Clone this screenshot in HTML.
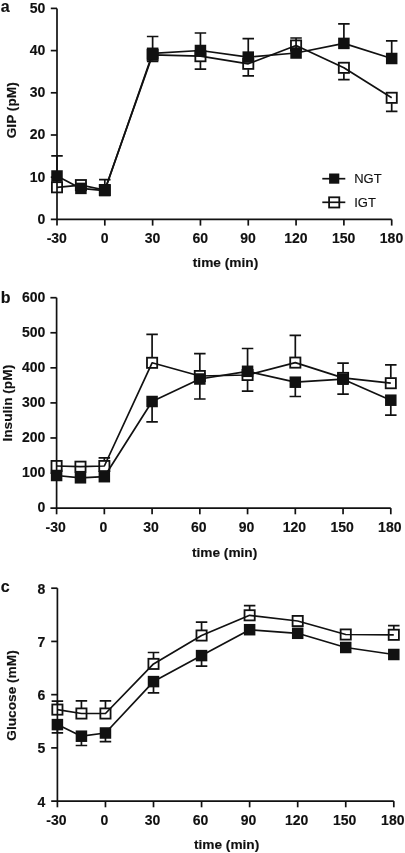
<!DOCTYPE html>
<html><head><meta charset="utf-8"><style>
html,body{margin:0;padding:0;background:#fff;}
body{width:405px;height:853px;overflow:hidden;}
svg{display:block;will-change:transform;}
text{font-family:"Liberation Sans", sans-serif;fill:#111;stroke:#111;stroke-width:0.15px;}
.tl{font-weight:bold;font-size:14px;}
.at{font-weight:bold;font-size:13.7px;}
.pl{font-weight:bold;font-size:16px;}
.lg{font-size:13px;}
.ax{fill:none;stroke:#111;stroke-width:1.7;}
.dl{fill:none;stroke:#111;stroke-width:1.7;stroke-linejoin:round;}
.eb{fill:none;stroke:#111;stroke-width:1.7;}
.om{fill:none;stroke:#111;stroke-width:1.8;}
.fm{fill:#111;stroke:none;}
</style></head><body>
<svg width="405" height="853" viewBox="0 0 405 853">
<path d="M57.00 8.40V225.60" class="ax"/>
<path d="M50.80 219.40H391.70" class="ax"/>
<text x="45.4" y="223.75" class="tl" text-anchor="end">0</text>
<path d="M50.80 177.20H57.00" class="ax"/>
<text x="45.4" y="181.55" class="tl" text-anchor="end">10</text>
<path d="M50.80 135.00H57.00" class="ax"/>
<text x="45.4" y="139.35" class="tl" text-anchor="end">20</text>
<path d="M50.80 92.80H57.00" class="ax"/>
<text x="45.4" y="97.15" class="tl" text-anchor="end">30</text>
<path d="M50.80 50.60H57.00" class="ax"/>
<text x="45.4" y="54.95" class="tl" text-anchor="end">40</text>
<path d="M50.80 8.40H57.00" class="ax"/>
<text x="45.4" y="12.75" class="tl" text-anchor="end">50</text>
<text x="56.80" y="243.20" class="tl" text-anchor="middle">-30</text>
<path d="M104.81 219.40V225.60" class="ax"/>
<text x="104.61" y="243.20" class="tl" text-anchor="middle">0</text>
<path d="M152.63 219.40V225.60" class="ax"/>
<text x="152.43" y="243.20" class="tl" text-anchor="middle">30</text>
<path d="M200.44 219.40V225.60" class="ax"/>
<text x="200.24" y="243.20" class="tl" text-anchor="middle">60</text>
<path d="M248.26 219.40V225.60" class="ax"/>
<text x="248.06" y="243.20" class="tl" text-anchor="middle">90</text>
<path d="M296.07 219.40V225.60" class="ax"/>
<text x="295.87" y="243.20" class="tl" text-anchor="middle">120</text>
<path d="M343.89 219.40V225.60" class="ax"/>
<text x="343.69" y="243.20" class="tl" text-anchor="middle">150</text>
<path d="M391.70 219.40V225.60" class="ax"/>
<text x="391.50" y="243.20" class="tl" text-anchor="middle">180</text>
<text transform="translate(15.80,110.30) rotate(-90)" class="at" text-anchor="middle">GIP (pM)</text>
<text x="225.50" y="266.60" class="at" text-anchor="middle">time (min)</text>
<text x="0.7" y="11.90" class="pl">a</text>
<path d="M57.00 176.00V155.90M51.25 155.90H62.75" class="eb"/>
<path d="M104.81 184.60V179.70M99.06 179.70H110.56" class="eb"/>
<path d="M152.63 53.30V36.50M146.88 36.50H158.38" class="eb"/>
<path d="M152.63 60.20V61.30M146.88 61.30H158.38" class="eb"/>
<path d="M200.44 50.50V33.00M194.69 33.00H206.19" class="eb"/>
<path d="M200.44 61.60V69.10M194.69 69.10H206.19" class="eb"/>
<path d="M248.26 57.10V38.60M242.51 38.60H254.01" class="eb"/>
<path d="M248.26 69.20V75.80M242.51 75.80H254.01" class="eb"/>
<path d="M296.07 53.00V38.00M290.32 38.00H301.82" class="eb"/>
<path d="M343.89 43.40V23.90M338.14 23.90H349.64" class="eb"/>
<path d="M343.89 73.20V79.70M338.14 79.70H349.64" class="eb"/>
<path d="M391.70 58.50V40.80M385.95 40.80H397.45" class="eb"/>
<path d="M391.70 103.20V111.40M385.95 111.40H397.45" class="eb"/>
<rect x="51.90" y="182.20" width="10.20" height="10.20" class="om"/>
<rect x="75.81" y="180.00" width="10.20" height="10.20" class="om"/>
<rect x="99.71" y="184.90" width="10.20" height="10.20" class="om"/>
<rect x="147.53" y="49.70" width="10.20" height="10.20" class="om"/>
<rect x="195.34" y="51.10" width="10.20" height="10.20" class="om"/>
<rect x="243.16" y="58.70" width="10.20" height="10.20" class="om"/>
<rect x="290.97" y="40.40" width="10.20" height="10.20" class="om"/>
<rect x="338.79" y="62.70" width="10.20" height="10.20" class="om"/>
<rect x="386.60" y="92.70" width="10.20" height="10.20" class="om"/>
<polyline points="57.00,187.30 80.91,185.10 104.81,190.00 152.63,54.80 200.44,56.20 248.26,63.80 296.07,45.50 343.89,67.80 391.70,97.80" class="dl"/>
<polyline points="57.00,176.00 80.91,188.40 104.81,190.60 152.63,53.30 200.44,50.50 248.26,57.10 296.07,53.00 343.89,43.40 391.70,58.50" class="dl"/>
<rect x="51.25" y="170.25" width="11.50" height="11.50" class="fm"/>
<rect x="75.16" y="182.65" width="11.50" height="11.50" class="fm"/>
<rect x="99.06" y="184.85" width="11.50" height="11.50" class="fm"/>
<rect x="146.88" y="47.55" width="11.50" height="11.50" class="fm"/>
<rect x="194.69" y="44.75" width="11.50" height="11.50" class="fm"/>
<rect x="242.51" y="51.35" width="11.50" height="11.50" class="fm"/>
<rect x="290.32" y="47.25" width="11.50" height="11.50" class="fm"/>
<rect x="338.14" y="37.65" width="11.50" height="11.50" class="fm"/>
<rect x="385.95" y="52.75" width="11.50" height="11.50" class="fm"/>
<path d="M322.3 178.7H345.3" class="dl"/>
<rect x="329.10" y="173.50" width="10.2" height="10.2" class="fm"/>
<text x="354.2" y="183.3" class="lg">NGT</text>
<path d="M322.3 202.3H345.3" class="dl"/>
<rect x="329.10" y="197.30" width="10.20" height="10.20" class="om"/>
<text x="354.2" y="206.8" class="lg">IGT</text>
<path d="M56.60 297.70V514.30" class="ax"/>
<path d="M50.40 508.10H390.80" class="ax"/>
<text x="45.4" y="512.45" class="tl" text-anchor="end">0</text>
<path d="M50.40 473.03H56.60" class="ax"/>
<text x="45.4" y="477.38" class="tl" text-anchor="end">100</text>
<path d="M50.40 437.97H56.60" class="ax"/>
<text x="45.4" y="442.32" class="tl" text-anchor="end">200</text>
<path d="M50.40 402.90H56.60" class="ax"/>
<text x="45.4" y="407.25" class="tl" text-anchor="end">300</text>
<path d="M50.40 367.83H56.60" class="ax"/>
<text x="45.4" y="372.18" class="tl" text-anchor="end">400</text>
<path d="M50.40 332.77H56.60" class="ax"/>
<text x="45.4" y="337.12" class="tl" text-anchor="end">500</text>
<path d="M50.40 297.70H56.60" class="ax"/>
<text x="45.4" y="302.05" class="tl" text-anchor="end">600</text>
<text x="55.60" y="531.90" class="tl" text-anchor="middle">-30</text>
<path d="M104.34 508.10V514.30" class="ax"/>
<text x="103.34" y="531.90" class="tl" text-anchor="middle">0</text>
<path d="M152.09 508.10V514.30" class="ax"/>
<text x="151.09" y="531.90" class="tl" text-anchor="middle">30</text>
<path d="M199.83 508.10V514.30" class="ax"/>
<text x="198.83" y="531.90" class="tl" text-anchor="middle">60</text>
<path d="M247.57 508.10V514.30" class="ax"/>
<text x="246.57" y="531.90" class="tl" text-anchor="middle">90</text>
<path d="M295.31 508.10V514.30" class="ax"/>
<text x="294.31" y="531.90" class="tl" text-anchor="middle">120</text>
<path d="M343.06 508.10V514.30" class="ax"/>
<text x="342.06" y="531.90" class="tl" text-anchor="middle">150</text>
<path d="M390.80 508.10V514.30" class="ax"/>
<text x="389.80" y="531.90" class="tl" text-anchor="middle">180</text>
<text transform="translate(11.60,403.20) rotate(-90)" class="at" text-anchor="middle">Insulin (pM)</text>
<text x="224.60" y="556.70" class="at" text-anchor="middle">time (min)</text>
<text x="0.7" y="302.90" class="pl">b</text>
<path d="M104.34 460.60V457.90M98.59 457.90H110.09" class="eb"/>
<path d="M152.09 357.40V334.30M146.34 334.30H157.84" class="eb"/>
<path d="M152.09 401.50V421.90M146.34 421.90H157.84" class="eb"/>
<path d="M199.83 370.60V353.70M194.08 353.70H205.58" class="eb"/>
<path d="M199.83 379.00V399.00M194.08 399.00H205.58" class="eb"/>
<path d="M247.57 371.30V348.50M241.82 348.50H253.32" class="eb"/>
<path d="M247.57 380.40V391.10M241.82 391.10H253.32" class="eb"/>
<path d="M295.31 357.20V335.30M289.56 335.30H301.06" class="eb"/>
<path d="M295.31 382.20V396.50M289.56 396.50H301.06" class="eb"/>
<path d="M343.06 372.50V363.10M337.31 363.10H348.81" class="eb"/>
<path d="M343.06 379.20V394.10M337.31 394.10H348.81" class="eb"/>
<path d="M390.80 377.80V364.90M385.05 364.90H396.55" class="eb"/>
<path d="M390.80 400.20V415.10M385.05 415.10H396.55" class="eb"/>
<rect x="51.50" y="460.90" width="10.20" height="10.20" class="om"/>
<rect x="75.37" y="461.60" width="10.20" height="10.20" class="om"/>
<rect x="99.24" y="460.90" width="10.20" height="10.20" class="om"/>
<rect x="146.99" y="357.70" width="10.20" height="10.20" class="om"/>
<rect x="194.73" y="370.90" width="10.20" height="10.20" class="om"/>
<rect x="242.47" y="369.90" width="10.20" height="10.20" class="om"/>
<rect x="290.21" y="357.50" width="10.20" height="10.20" class="om"/>
<rect x="337.96" y="372.80" width="10.20" height="10.20" class="om"/>
<rect x="385.70" y="378.10" width="10.20" height="10.20" class="om"/>
<polyline points="56.60,466.00 80.47,466.70 104.34,466.00 152.09,362.80 199.83,376.00 247.57,375.00 295.31,362.60 343.06,377.90 390.80,383.20" class="dl"/>
<polyline points="56.60,475.50 80.47,477.80 104.34,476.70 152.09,401.50 199.83,379.00 247.57,371.30 295.31,382.20 343.06,379.20 390.80,400.20" class="dl"/>
<rect x="50.85" y="469.75" width="11.50" height="11.50" class="fm"/>
<rect x="74.72" y="472.05" width="11.50" height="11.50" class="fm"/>
<rect x="98.59" y="470.95" width="11.50" height="11.50" class="fm"/>
<rect x="146.34" y="395.75" width="11.50" height="11.50" class="fm"/>
<rect x="194.08" y="373.25" width="11.50" height="11.50" class="fm"/>
<rect x="241.82" y="365.55" width="11.50" height="11.50" class="fm"/>
<rect x="289.56" y="376.45" width="11.50" height="11.50" class="fm"/>
<rect x="337.31" y="373.45" width="11.50" height="11.50" class="fm"/>
<rect x="385.05" y="394.45" width="11.50" height="11.50" class="fm"/>
<path d="M57.40 588.20V807.30" class="ax"/>
<path d="M51.20 801.10H393.80" class="ax"/>
<text x="45.4" y="806.60" class="tl" text-anchor="end">4</text>
<path d="M51.20 747.88H57.40" class="ax"/>
<text x="45.4" y="753.38" class="tl" text-anchor="end">5</text>
<path d="M51.20 694.65H57.40" class="ax"/>
<text x="45.4" y="700.15" class="tl" text-anchor="end">6</text>
<path d="M51.20 641.43H57.40" class="ax"/>
<text x="45.4" y="646.93" class="tl" text-anchor="end">7</text>
<path d="M51.20 588.20H57.40" class="ax"/>
<text x="45.4" y="593.70" class="tl" text-anchor="end">8</text>
<text x="56.40" y="824.90" class="tl" text-anchor="middle">-30</text>
<path d="M105.46 801.10V807.30" class="ax"/>
<text x="104.46" y="824.90" class="tl" text-anchor="middle">0</text>
<path d="M153.51 801.10V807.30" class="ax"/>
<text x="152.51" y="824.90" class="tl" text-anchor="middle">30</text>
<path d="M201.57 801.10V807.30" class="ax"/>
<text x="200.57" y="824.90" class="tl" text-anchor="middle">60</text>
<path d="M249.63 801.10V807.30" class="ax"/>
<text x="248.63" y="824.90" class="tl" text-anchor="middle">90</text>
<path d="M297.69 801.10V807.30" class="ax"/>
<text x="296.69" y="824.90" class="tl" text-anchor="middle">120</text>
<path d="M345.74 801.10V807.30" class="ax"/>
<text x="344.74" y="824.90" class="tl" text-anchor="middle">150</text>
<path d="M393.80 801.10V807.30" class="ax"/>
<text x="392.80" y="824.90" class="tl" text-anchor="middle">180</text>
<text transform="translate(16.20,695.50) rotate(-90)" class="at" text-anchor="middle">Glucose (mM)</text>
<text x="226.60" y="849.40" class="at" text-anchor="middle">time (min)</text>
<text x="0.7" y="592.00" class="pl">c</text>
<path d="M57.40 704.20V701.10M51.65 701.10H63.15" class="eb"/>
<path d="M57.40 724.60V732.80M51.65 732.80H63.15" class="eb"/>
<path d="M81.43 708.10V700.90M75.68 700.90H87.18" class="eb"/>
<path d="M81.43 736.20V745.50M75.68 745.50H87.18" class="eb"/>
<path d="M105.46 708.10V700.90M99.71 700.90H111.21" class="eb"/>
<path d="M105.46 733.00V741.60M99.71 741.60H111.21" class="eb"/>
<path d="M153.51 658.50V652.50M147.76 652.50H159.26" class="eb"/>
<path d="M153.51 681.60V692.80M147.76 692.80H159.26" class="eb"/>
<path d="M201.57 630.10V622.10M195.82 622.10H207.32" class="eb"/>
<path d="M201.57 655.60V666.20M195.82 666.20H207.32" class="eb"/>
<path d="M249.63 609.90V605.70M243.88 605.70H255.38" class="eb"/>
<path d="M393.80 629.40V625.60M388.05 625.60H399.55" class="eb"/>
<rect x="52.30" y="704.50" width="10.20" height="10.20" class="om"/>
<rect x="76.33" y="708.40" width="10.20" height="10.20" class="om"/>
<rect x="100.36" y="708.40" width="10.20" height="10.20" class="om"/>
<rect x="148.41" y="658.80" width="10.20" height="10.20" class="om"/>
<rect x="196.47" y="630.40" width="10.20" height="10.20" class="om"/>
<rect x="244.53" y="610.20" width="10.20" height="10.20" class="om"/>
<rect x="292.59" y="615.90" width="10.20" height="10.20" class="om"/>
<rect x="340.64" y="629.40" width="10.20" height="10.20" class="om"/>
<rect x="388.70" y="629.70" width="10.20" height="10.20" class="om"/>
<polyline points="57.40,709.60 81.43,713.50 105.46,713.50 153.51,663.90 201.57,635.50 249.63,615.30 297.69,621.00 345.74,634.50 393.80,634.80" class="dl"/>
<polyline points="57.40,724.60 81.43,736.20 105.46,733.00 153.51,681.60 201.57,655.60 249.63,629.70 297.69,633.30 345.74,647.50 393.80,654.50" class="dl"/>
<rect x="51.65" y="718.85" width="11.50" height="11.50" class="fm"/>
<rect x="75.68" y="730.45" width="11.50" height="11.50" class="fm"/>
<rect x="99.71" y="727.25" width="11.50" height="11.50" class="fm"/>
<rect x="147.76" y="675.85" width="11.50" height="11.50" class="fm"/>
<rect x="195.82" y="649.85" width="11.50" height="11.50" class="fm"/>
<rect x="243.88" y="623.95" width="11.50" height="11.50" class="fm"/>
<rect x="291.94" y="627.55" width="11.50" height="11.50" class="fm"/>
<rect x="339.99" y="641.75" width="11.50" height="11.50" class="fm"/>
<rect x="388.05" y="648.75" width="11.50" height="11.50" class="fm"/>
</svg>
</body></html>
